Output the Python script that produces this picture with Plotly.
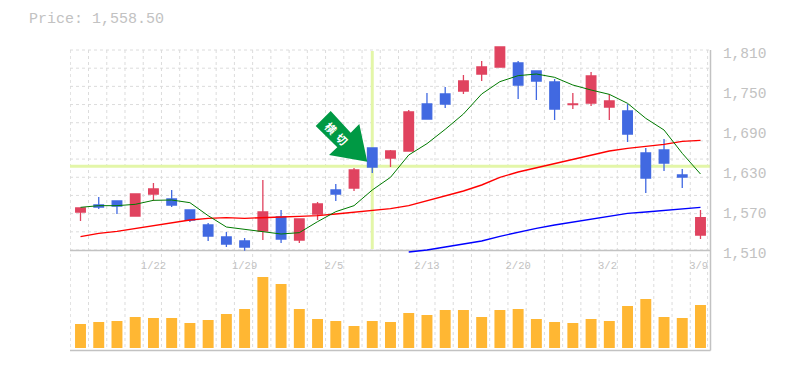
import plotly.graph_objects as go

W, H = 785, 370
PAGE = 8  # the browser's default body margin
days = list(range(35))
opens = [1567,1577.5,1583.5,1561,1594,1586.5,1570,1547.5,1529.5,1523.5,1538.5,1559.5,1525,1564,1600,1603,1663,1648,1658.5,1729,1744,1748.5,1774,1784.5,1790.5,1778.5,1762,1728,1730.5,1724.5,1718.5,1655.5,1660,1622.5,1532.5]
highs = [1573,1589.5,1583.5,1594,1610.5,1600,1570,1550.5,1537,1528,1615,1570,1556.5,1582,1609,1633,1663,1660,1720,1745.5,1754.5,1772.5,1793.5,1814.5,1793.5,1778.5,1766.5,1745.5,1777,1744,1729,1663,1676.5,1631.5,1570]
lows = [1553.5,1571.5,1564,1561,1583.5,1574.5,1552,1523.5,1514.5,1509,1525,1520.5,1520.5,1555,1583.5,1598.5,1625.5,1634.5,1658.5,1706.5,1723,1744,1763.5,1784.5,1736.5,1735,1705,1721.5,1726,1705,1672,1595.5,1628.5,1603,1526.5]
closes = [1573,1574.5,1576,1594,1601.5,1577.5,1555,1531,1519,1514.5,1567,1526.5,1556.5,1579,1594,1630,1634.5,1658.5,1717,1706.5,1729,1763.5,1784.5,1814.5,1757.5,1763.5,1721.5,1729,1771,1733.5,1684,1618,1640.5,1619.5,1558.5]
ma_short = [1574,1576.5,1576.5,1578.5,1584.5,1585,1581,1561.5,1544.5,1541,1538,1534,1536,1552.5,1567.5,1576.5,1600,1619,1652.5,1669.5,1691,1714,1744,1762.5,1771.5,1774,1769,1757.5,1750,1743.5,1730,1707.5,1690,1655,1624]
ma_mid = [1530,1535,1538,1542,1547,1550.5,1555,1557.5,1558.5,1557.5,1559,1559.5,1560.5,1561.5,1564,1567,1569.5,1572,1576.5,1584,1590.5,1598.5,1607.5,1619,1627,1633.5,1640,1646.5,1652.5,1658.5,1662.5,1665,1668.5,1673,1674.5]
ma_long_days = list(range(18, 35))
ma_long = [1507,1510,1514.5,1519,1523.5,1530.5,1537,1542.5,1547.5,1552,1557,1561,1565,1567,1569.5,1572.5,1574]
volumes = [24,26,27,31,30,30,25,28,34,39,71,64,39,29,27,22,27,26,35,33,38,38,31,38,39,29,26,25,29,27,42,49,31,30,43]
price_ticks = [1810,1750,1690,1630,1570,1510]
price_labels = ["1,810","1,750","1,690","1,630","1,570","1,510"]
date_positions = [4,9,13.9,19,24,28.9,33.9]
date_labels = ["1/22","1/29","2/5","2/13","2/20","3/2","3/9"]
price_text = "Price: 1,558.50"
signal_day = 16
signal_price = 1635.5
signal_text = "横切"

FONT = "Liberation Mono"
GREY = "#c2c2c2"
GRID = "#dcdcdc"
CROSS = "#e3f6a8"
RED = "#e0435f"
BLUE = "#4169e1"

FW, FH = W - PAGE, H - 2 * PAGE
def px(x): return (x - PAGE) / FW
def py(y): return 1 - (y - PAGE) / FH

X_RANGE = [(70 - 80.5) / 18.235, (710 - 80.5) / 18.235]
grid_x = [-0.56 + i * 1.0 for i in range(35)] + [34.39]
grid_y = [1810 - i * 300 / 11 for i in range(12)]

fig = go.Figure()
fig.add_trace(go.Bar(x=days, y=volumes, yaxis="y2", marker=dict(color="#ffb733", line_width=0), showlegend=False))
fig.add_trace(go.Scatter(x=ma_long_days, y=ma_long, mode="lines", line=dict(color="#0000ff", width=1.4), showlegend=False))
fig.add_trace(go.Scatter(x=days, y=ma_mid, mode="lines", line=dict(color="#ff0000", width=1.4), showlegend=False))
fig.add_trace(go.Candlestick(
    x=days, open=opens, high=highs, low=lows, close=closes, showlegend=False, whiskerwidth=0,
    increasing=dict(line=dict(color=RED, width=1.3), fillcolor=RED),
    decreasing=dict(line=dict(color=BLUE, width=1.3), fillcolor=BLUE),
))
fig.add_trace(go.Scatter(x=days, y=ma_short, mode="lines", line=dict(color="#007a00", width=1), showlegend=False))

shapes = []
for gx in grid_x:
    shapes.append(dict(type="line", layer="below", xref="x", yref="paper", x0=gx, x1=gx, y0=py(50), y1=py(350),
                       line=dict(color=GRID, width=1, dash="3px,3px")))
for gy in grid_y:
    shapes.append(dict(type="line", layer="below", xref="paper", yref="y", x0=px(70), x1=px(710), y0=gy, y1=gy,
                       line=dict(color=GRID, width=1, dash="3px,3px")))
shapes.append(dict(type="line", layer="below", xref="paper", yref="y", x0=px(70), x1=px(710), y0=signal_price, y1=signal_price,
                   line=dict(color=CROSS, width=3)))
shapes.append(dict(type="line", layer="below", xref="x", yref="paper", x0=signal_day, x1=signal_day, y0=py(51), y1=py(249),
                   line=dict(color=CROSS, width=3)))
for y0 in (250.5, 350.5):
    shapes.append(dict(type="line", layer="below", xref="paper", yref="paper", x0=px(70), x1=px(710.5), y0=py(y0), y1=py(y0),
                       line=dict(color=GREY, width=1.5)))
shapes.append(dict(type="line", layer="below", xref="paper", yref="paper", x0=px(710.5), x1=px(710.5), y0=py(50), y1=py(350.5),
                   line=dict(color=GREY, width=1.5)))
arrow = [(330.7,111),(315.7,126),(337.3,147.3),(329,155),(367.3,161.7),(359.3,124),(350.7,132.7)]
path = "M " + " L ".join(f"{px(a):.5f},{py(b):.5f}" for a, b in arrow) + " Z"
shapes.append(dict(type="path", layer="above", xref="paper", yref="paper", path=path, fillcolor="#009944", line_width=0))

annotations = [
    dict(text=price_text, xref="paper", yref="paper", x=px(27), y=py(19.5), xanchor="left", yanchor="middle",
         showarrow=False, font=dict(family=FONT, size=15, color=GREY)),
    dict(text=signal_text[0], xref="paper", yref="paper", x=px(331.5), y=py(127.5), xanchor="center", yanchor="middle",
         showarrow=False, textangle=45, font=dict(family="Noto Sans CJK JP", size=11, color="white", weight="bold")),
    dict(text=signal_text[1], xref="paper", yref="paper", x=px(342.5), y=py(138.5), xanchor="center", yanchor="middle",
         showarrow=False, textangle=45, font=dict(family="Noto Sans CJK JP", size=11, color="white", weight="bold")),
]

fig.update_layout(
    width=FW, height=FH, autosize=False, margin=dict(l=0, r=0, t=0, b=0, pad=0, autoexpand=False),
    paper_bgcolor="white", plot_bgcolor="rgba(0,0,0,0)", bargap=0.4, boxgap=0.25,
    shapes=shapes, annotations=annotations, showlegend=False, hovermode=False,
    xaxis=dict(domain=[px(70), px(710)], range=X_RANGE, rangeslider_visible=False, showgrid=False, zeroline=False,
               showline=False, anchor="y", tickmode="array", tickvals=date_positions, ticktext=date_labels, automargin=False,
               ticks="outside", ticklen=2, tickcolor="rgba(0,0,0,0)", tickfont=dict(family=FONT, size=10.5, color=GREY)),
    yaxis=dict(domain=[py(253), py(44)], range=[1810 - 203 * 1.5, 1810 + 6 * 1.5], side="right", anchor="x", automargin=False,
               showgrid=False, zeroline=False, showline=False, tickmode="array", tickvals=price_ticks, ticktext=price_labels,
               ticks="outside", ticklen=9, tickcolor="rgba(0,0,0,0)", ticklabelshift=3,
               tickfont=dict(family=FONT, size=14.5, color=GREY)),
    yaxis2=dict(domain=[py(350), py(250)], range=[-2, 98], anchor="x", showgrid=False, zeroline=False, automargin=False,
                showline=False, showticklabels=False, ticks=""),
)
fig.write_html("out.html")
